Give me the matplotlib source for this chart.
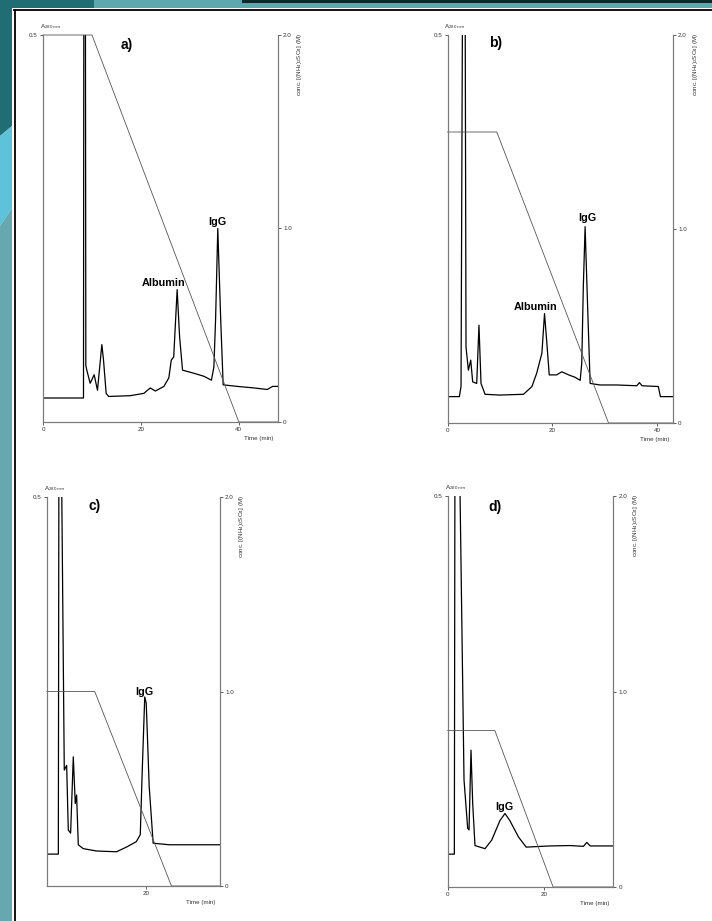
import matplotlib.pyplot as plt
from matplotlib.patches import Polygon
from matplotlib.lines import Line2D

plt.rcParams["font.family"] = ["Liberation Sans", "DejaVu Sans"]
plt.rcParams["mathtext.fontset"] = "custom"
plt.rcParams["mathtext.rm"] = "Liberation Sans"

W, H = 712, 921

# ---- elution profiles (time in min, absorbance at 280 nm) ----
a_time = [0, 8.27, 8.35, 8.65, 8.75, 8.95, 9.63, 10.45, 11.13, 12.02, 12.36, 12.9, 13.4, 17.8, 20.6,
          21.9, 22.95, 24.7, 25.7, 26.2, 26.7, 27.4, 27.9, 28.5, 30.8, 32.9, 34.4, 34.9, 35.25, 35.7,
          36.3, 36.8, 39.7, 43.1, 45.8, 46.9, 48]
a_abs = [0.031, 0.031, 0.62, 0.62, 0.073, 0.067, 0.050, 0.061, 0.041, 0.100, 0.080, 0.037, 0.033, 0.034, 0.037,
         0.044, 0.040, 0.046, 0.057, 0.080, 0.084, 0.171, 0.110, 0.067, 0.063, 0.059, 0.054, 0.071, 0.132, 0.250,
         0.132, 0.048, 0.046, 0.044, 0.042, 0.046, 0.046]

b_time = [0, 2.26, 2.58, 2.9, 3.34, 3.53, 3.98, 4.43, 4.8, 5.57, 6.0, 6.39, 7.16, 10.0, 14.5,
          16.1, 17.0, 18.0, 18.5, 18.9, 19.4, 20.8, 21.8, 23.1, 24.3, 25.3, 25.6, 25.9, 26.24, 26.7,
          27.2, 29.1, 32.3, 36.1, 36.6, 37.1, 40.2, 40.6, 43.0]
b_abs = [0.034, 0.034, 0.047, 0.62, 0.62, 0.098, 0.068, 0.081, 0.053, 0.051, 0.126, 0.051, 0.037, 0.036, 0.037,
         0.047, 0.064, 0.090, 0.141, 0.107, 0.062, 0.062, 0.066, 0.062, 0.059, 0.055, 0.077, 0.176, 0.253, 0.154,
         0.051, 0.049, 0.049, 0.048, 0.052, 0.048, 0.047, 0.034, 0.034]

c_time = [0, 2.35, 2.48, 2.88, 3.55, 4.03, 4.36, 4.83, 5.37, 5.77, 6.04, 6.38, 7.38, 10.07, 14.1,
          16.1, 18.1, 18.9, 19.3, 19.8, 20.1, 20.7, 21.5, 24.8, 31.5, 35.0]
c_abs = [0.041, 0.041, 0.62, 0.62, 0.149, 0.155, 0.072, 0.068, 0.166, 0.106, 0.117, 0.053, 0.048, 0.045, 0.044,
         0.050, 0.057, 0.066, 0.149, 0.243, 0.235, 0.128, 0.055, 0.053, 0.053, 0.053]

d_time = [0, 1.38, 1.52, 2.3, 3.39, 4.15, 4.43, 4.84, 5.19, 5.67, 7.75, 9.14, 10.86, 11.9, 12.9,
          14.7, 16.3, 21.2, 25.4, 28.2, 28.9, 29.6, 34.4]
d_abs = [0.042, 0.042, 0.62, 0.62, 0.137, 0.075, 0.073, 0.175, 0.107, 0.053, 0.049, 0.060, 0.085, 0.094, 0.085,
         0.064, 0.051, 0.0525, 0.053, 0.052, 0.057, 0.0525, 0.0525]

# ---- (NH4)2SO4 gradients (M) ----
a_grad_time = [0, 10, 40, 48]
a_grad_conc = [2.0, 2.0, 0, 0]
b_grad_time = [0, 9.4, 30.7, 43]
b_grad_conc = [1.5, 1.5, 0, 0]
c_grad_time = [0, 9.7, 25.2, 35]
c_grad_conc = [1.0, 1.0, 0, 0]
d_grad_time = [0, 9.8, 21.9, 34.4]
d_grad_conc = [0.8, 0.8, 0, 0]

# ---- peak labels: (text, time, absorbance) ----
a_peaks = [("Albumin", 24.6, 0.180), ("IgG", 35.7, 0.258)]
b_peaks = [("Albumin", 16.7, 0.149), ("IgG", 26.6, 0.264)]
c_peaks = [("IgG", 19.8, 0.249)]
d_peaks = [("IgG", 11.7, 0.102)]

# panel boxes in pixels: left, top, right, bottom
panels = [
    dict(tag="a)", box=(43, 35, 278, 422), xmax=48, xticks=[0, 20, 40], t=a_time, A=a_abs,
         gt=a_grad_time, gc=a_grad_conc, peaks=a_peaks, tag_xy=(17.2, 0.487)),
    dict(tag="b)", box=(447.5, 35, 673, 423), xmax=43, xticks=[0, 20, 40], t=b_time, A=b_abs,
         gt=b_grad_time, gc=b_grad_conc, peaks=b_peaks, tag_xy=(9.1, 0.49)),
    dict(tag="c)", box=(46.7, 497, 220, 886), xmax=35, xticks=[20], t=c_time, A=c_abs,
         gt=c_grad_time, gc=c_grad_conc, peaks=c_peaks, tag_xy=(9.7, 0.489)),
    dict(tag="d)", box=(447.7, 496, 613.3, 887), xmax=34.4, xticks=[0, 20], t=d_time, A=d_abs,
         gt=d_grad_time, gc=d_grad_conc, peaks=d_peaks, tag_xy=(9.8, 0.486)),
]


def fx(x):
    return x / W


def fy(y):
    return 1 - y / H


fig = plt.figure(figsize=(W / 100, H / 100), dpi=100)
fig.patch.set_facecolor("white")

# slide frame: teal bars on the left and the top
strip = [
    ([(0, 0), (12, 0), (12, 126), (0, 136)], "#216d74"),
    ([(0, 136), (12, 126), (12, 208), (0, 226)], "#5ec2da"),
    ([(0, 226), (12, 208), (12, H), (0, H)], "#67a8b0"),
    ([(0, 0), (94, 0), (94, 8), (0, 8)], "#216d74"),
    ([(94, 0), (242, 0), (242, 8), (94, 8)], "#5fa7af"),
    ([(242, 0), (W, 0), (W, 3.5), (242, 3.5)], "#10282b"),
    ([(242, 3.5), (W, 3.5), (W, 8), (242, 8)], "#5fa7af"),
]
for pts, col in strip:
    fig.add_artist(Polygon([(fx(x), fy(y)) for x, y in pts], closed=True,
                           transform=fig.transFigure, facecolor=col, edgecolor="none"))
fig.add_artist(Line2D([fx(14), fx(W)], [fy(10.5), fy(10.5)], transform=fig.transFigure,
                      color="black", lw=1.3))
fig.add_artist(Line2D([fx(14.5), fx(14.5)], [fy(10.5), fy(H)], transform=fig.transFigure,
                      color="black", lw=1.3))

spine_col = "#7a7a7a"
for p in panels:
    l, t, r, b = p["box"]
    ax = fig.add_axes([fx(l), fy(b), fx(r) - fx(l), fy(t) - fy(b)])
    ax.set_facecolor("none")
    ax2 = ax.twinx()

    ax.plot(p["t"], p["A"], color="black", lw=0.9)
    ax2.plot(p["gt"], p["gc"], color="#555555", lw=0.6, clip_on=False)

    ax.set_xlim(0, p["xmax"])
    ax.set_ylim(0, 0.5)
    ax2.set_ylim(0, 2.0)

    ax.set_xticks(p["xticks"])
    ax.set_xticklabels([str(v) for v in p["xticks"]])
    ax.set_yticks([0.5])
    ax.set_yticklabels(["0.5"])
    ax2.set_yticks([0, 1.0, 2.0])
    ax2.set_yticklabels(["0", "1.0", "2.0"])

    for a in (ax, ax2):
        a.spines["top"].set_visible(False)
        for s in ("left", "bottom", "right"):
            a.spines[s].set_color(spine_col)
            a.spines[s].set_linewidth(0.8)
        a.tick_params(length=2.2, width=0.6, pad=1.5, labelsize=4.5,
                      color="#444444", labelcolor="#333333")

    ax.text(p["tag_xy"][0], p["tag_xy"][1], p["tag"], fontsize=10, fontweight="bold",
            ha="center", va="center")
    for name, tx, ty in p["peaks"]:
        ax.text(tx, ty, name, fontsize=7.8, fontweight="bold", ha="center", va="center")

    fig.text(fx(l - 3), fy(t - 8), r"A$_{280\ nm}$", fontsize=4.5, ha="left", va="center",
             color="#333333")
    fig.text(fx(r + 22), fy(t - 2), r"conc. [(NH$_4$)$_2$SO$_4$] (M)", fontsize=4.5,
             rotation=90, ha="center", va="top", color="#333333")
    fig.text(fx(r - 4), fy(b + 16), "Time (min)", fontsize=4.5, ha="right", va="center",
             color="#333333")

fig.savefig("out.png", dpi=100)
